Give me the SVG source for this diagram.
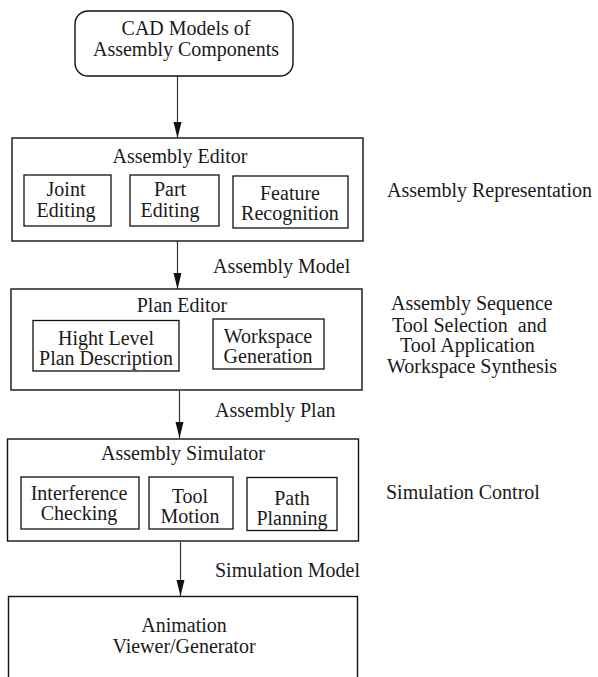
<svg xmlns="http://www.w3.org/2000/svg" width="598" height="677" viewBox="0 0 598 677">
<defs>
<style>
text{font-family:"Liberation Serif","Times New Roman",serif;font-size:20px;fill:#1a1a1a}
.c{text-anchor:middle}
.box{fill:none;stroke:#111;stroke-width:1.4}
.sub{fill:none;stroke:#111;stroke-width:1.3}
.conn{stroke:#333;stroke-width:1.2;fill:none}
</style>
<marker id="arr" markerUnits="userSpaceOnUse" viewBox="0 0 16 9" refX="16" refY="4.5" markerWidth="16" markerHeight="9" orient="auto">
<path d="M0,0.5 L16,4.5 L0,8.5 z" fill="#111"/>
</marker>
</defs>
<rect width="598" height="677" fill="#fff"/>

<g id="connectors">
<line class="conn" x1="177.5" y1="76" x2="177.5" y2="138" marker-end="url(#arr)"/>
<line class="conn" x1="177.5" y1="241" x2="177.5" y2="289" marker-end="url(#arr)"/>
<line class="conn" x1="179.5" y1="391" x2="179.5" y2="438" marker-end="url(#arr)"/>
<line class="conn" x1="180.5" y1="542" x2="180.5" y2="596" stroke="#777" marker-end="url(#arr)"/>
</g>

<g id="cad">
<rect class="box" x="75" y="11" width="218" height="65" rx="13"/>
<text class="c" x="186" y="35">CAD Models of</text>
<text class="c" x="186" y="55.5">Assembly Components</text>
</g>

<g id="assembly-editor">
<rect class="box" x="12" y="138" width="351" height="103"/>
<text class="c" x="180" y="163">Assembly Editor</text>
</g>
<g id="joint-editing">
<rect class="sub" x="24" y="175" width="87" height="51"/>
<text class="c" x="66" y="196">Joint</text>
<text class="c" x="66" y="216.5">Editing</text>
</g>
<g id="part-editing">
<rect class="sub" x="130" y="175" width="89" height="51"/>
<text class="c" x="170" y="196">Part</text>
<text class="c" x="170" y="216.5">Editing</text>
</g>
<g id="feature-recognition">
<rect class="sub" x="233" y="176" width="115" height="52"/>
<text class="c" x="290" y="199.5">Feature</text>
<text class="c" x="290" y="220">Recognition</text>
</g>

<g id="label-assembly-model"><text x="213" y="273">Assembly Model</text></g>

<g id="plan-editor">
<rect class="box" x="11" y="289" width="351" height="101"/>
<text class="c" x="182" y="312">Plan Editor</text>
</g>
<g id="high-level-plan">
<rect class="sub" x="33" y="320.5" width="146" height="50.5"/>
<text class="c" x="106" y="344.5">Hight Level</text>
<text class="c" x="106" y="365">Plan Description</text>
</g>
<g id="workspace-generation">
<rect class="sub" x="213" y="319" width="111" height="50"/>
<text class="c" x="268" y="342.5">Workspace</text>
<text class="c" x="268" y="363">Generation</text>
</g>

<g id="label-assembly-plan"><text x="215" y="417">Assembly Plan</text></g>

<g id="assembly-simulator">
<rect class="box" x="7.5" y="439" width="351" height="102"/>
<text class="c" x="183" y="460">Assembly Simulator</text>
</g>
<g id="interference-checking">
<rect class="sub" x="21" y="477" width="118" height="52"/>
<text class="c" x="79" y="499.5">Interference</text>
<text class="c" x="79" y="520">Checking</text>
</g>
<g id="tool-motion">
<rect class="sub" x="149" y="477" width="84" height="52"/>
<text class="c" x="190" y="502.5">Tool</text>
<text class="c" x="190" y="523">Motion</text>
</g>
<g id="path-planning">
<rect class="sub" x="247" y="477.5" width="90" height="53"/>
<text class="c" x="292" y="504.5">Path</text>
<text class="c" x="292" y="525">Planning</text>
</g>

<g id="label-simulation-model"><text x="215" y="577">Simulation Model</text></g>

<g id="animation">
<rect class="box" x="8.5" y="596.5" width="349" height="95"/>
<text class="c" x="184" y="632">Animation</text>
<text class="c" x="184" y="653">Viewer/Generator</text>
</g>

<g id="side-labels">
<text x="387" y="197">Assembly Representation</text>
<text x="391" y="310">Assembly Sequence</text>
<text x="392" y="331.5" xml:space="preserve" style="white-space:pre">Tool Selection  and</text>
<text x="400" y="352">Tool Application</text>
<text x="387" y="373">Workspace Synthesis</text>
<text x="386" y="499">Simulation Control</text>
</g>
</svg>
